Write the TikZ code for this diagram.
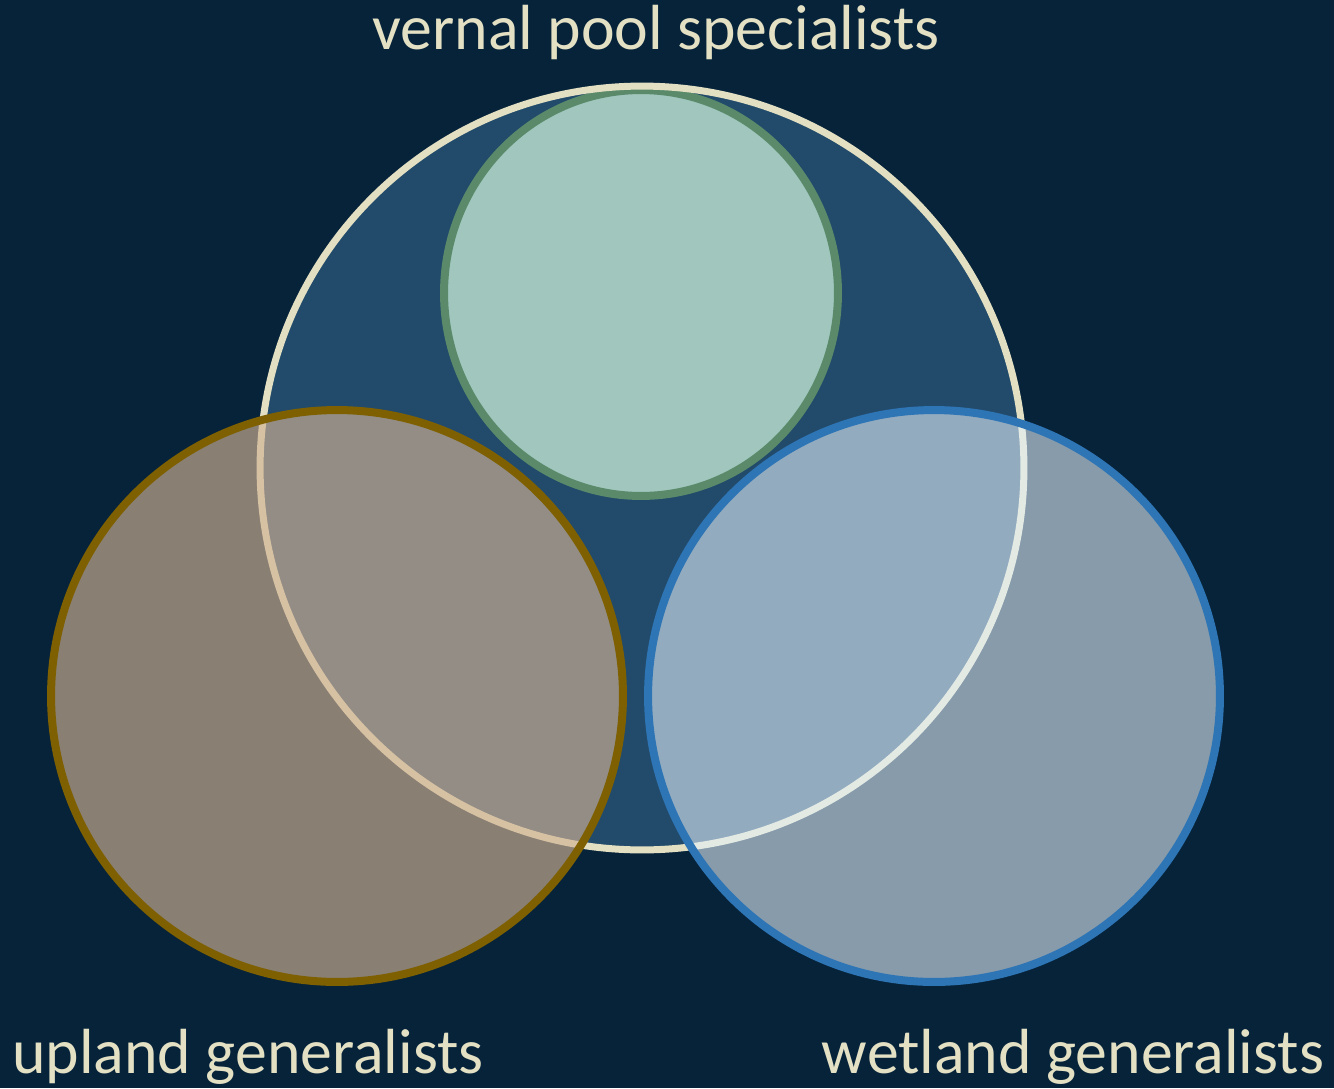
\documentclass[tikz,border=0pt]{standalone}
\usepackage{fontspec}
\setmainfont{Carlito}
\usepackage{xcolor}

\definecolor{navy}{RGB}{6,35,58}
\definecolor{poolblue}{RGB}{34,75,107}
\definecolor{cream}{RGB}{226,223,194}
\definecolor{labeltext}{RGB}{227,224,196}
\definecolor{mint}{RGB}{160,198,190}
\definecolor{mintline}{RGB}{90,138,106}
\definecolor{tan}{RGB}{208,177,147}
\definecolor{goldline}{RGB}{127,96,0}
\definecolor{paleblue}{RGB}{229,242,253}
\definecolor{blueline}{RGB}{46,117,182}

\tikzset{
  setlabel/.style={text=labeltext, anchor=base, inner sep=0pt,
    font=\fontsize{36.3}{42}\selectfont},
  setline/.style={line width=0.16cm}
}

\begin{document}
\begin{tikzpicture}[x=0.02cm,y=-0.02cm]
            % background and frame
            \useasboundingbox (0,0) rectangle (1334,1088);
            \fill[navy] (0,0) rectangle (1334,1088);

            % centres of the sets
            \coordinate (VP) at (642,468);
            \coordinate (SP) at (641,293);
            \coordinate (UP) at (337,696);
            \coordinate (WE) at (934,696);

            % vernal pool set, fill only
            \fill[poolblue] (VP) circle(7.64cm);

            % specialists inside it
            \filldraw[fill=mint, draw=mintline, setline]
                (SP) ellipse[x radius=3.94cm, y radius=4.06cm];

            % outline of vernal pool set on top
            \draw[cream, line width=0.14cm] (VP) circle(7.64cm);

            % upland generalists
            \filldraw[fill=tan, fill opacity=0.65, draw=goldline, setline]
                (UP) circle(5.72cm);

            % wetland generalists
            \filldraw[fill=paleblue, fill opacity=0.58, draw=blueline, setline]
                (WE) circle(5.72cm);

            % the labels
            \node[setlabel] (vernal) at (656,50) {vernal pool specialists};
            \node[setlabel] (upland) at (248,1073) {upland generalists};
            \node[setlabel] (wetland) at (1073,1073) {wetland generalists};
\end{tikzpicture}
\end{document}
